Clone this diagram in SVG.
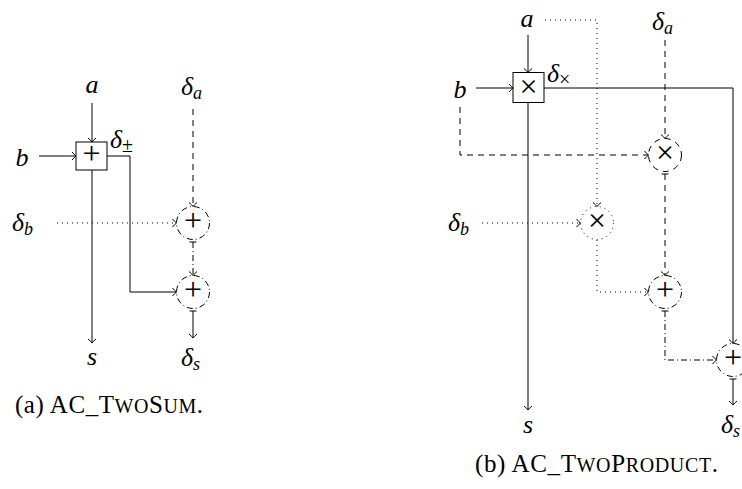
<svg xmlns="http://www.w3.org/2000/svg" width="742" height="489" viewBox="0 0 742 489">
<defs>
<marker id="arr" markerUnits="userSpaceOnUse" viewBox="-8 -6 12 12" markerWidth="12" markerHeight="12" refX="0" refY="0" orient="auto" overflow="visible">
<path d="M-4,-4 Q-1.5,-1 0,0 Q-1.5,1 -4,4" fill="none" stroke="#000" stroke-width="1" stroke-dasharray="none"/>
</marker>
<marker id="bar" markerUnits="userSpaceOnUse" viewBox="-6 -6 12 12" markerWidth="12" markerHeight="12" refX="0" refY="0" orient="auto" overflow="visible">
<path d="M0,-3.5 V3.5" fill="none" stroke="#000" stroke-width="1" stroke-dasharray="none"/>
</marker>
<style>
.ln{fill:none;stroke:#000;stroke-width:1}
.dash{stroke-dasharray:6 5}
.dot{stroke-dasharray:1 4}
.dd{stroke-dasharray:6 3 1 3}
.arr{marker-end:url(#arr)}
.bar{marker-start:url(#bar)}
.box{fill:#fff;stroke:#000;stroke-width:1}
.op{fill:none;stroke:#000;stroke-width:1}
.m{font-family:"Liberation Serif",serif;font-style:italic;font-size:26px;fill:#000}
.sub{font-size:18px}
.subop{font-size:20px;font-style:normal}
.sym{font-family:"Liberation Serif",serif;font-size:32px;fill:#000;text-anchor:middle}
.cap{font-family:"Liberation Serif",serif;font-size:25px;fill:#000}
</style>
</defs>
<g id="connectors">
<path class="ln arr" d="M92,103 V142"/>
<path class="ln arr" d="M39,156 H76"/>
<path class="ln" d="M107,156 H130 V292"/>
<path class="ln arr" d="M130,292 H176.5"/>
<path class="ln arr" d="M92,170 V343"/>
<path class="ln dash arr" d="M193,109 V206.5"/>
<path class="ln dot arr" d="M57,223 H176.5"/>
<path class="ln dd arr bar" d="M193,242 V275.5"/>
<path class="ln arr bar" d="M193,311 V338"/>
<path class="ln arr" d="M528,35 V72.5"/>
<path class="ln arr" d="M476,88 H513"/>
<path class="ln arr" d="M544,88 H733 V343.5"/>
<path class="ln dot arr" d="M545,20 H597 V206.5"/>
<path class="ln dash arr" d="M665,40 V138.5"/>
<path class="ln dash arr" d="M460,107 V155 H648.5"/>
<path class="ln arr" d="M528,102.5 V410"/>
<path class="ln dot arr" d="M482,223 H580.5"/>
<path class="ln dot arr" d="M597,240 V292 H648.5"/>
<path class="ln dash arr bar" d="M665,174 V275.5"/>
<path class="ln dd arr bar" d="M665,311 V360 H716.5"/>
<path class="ln arr bar" d="M733,379 V405"/>
</g>
<g id="node-a-left"><text class="m" x="92" y="93" text-anchor="middle">a</text></g>
<g id="node-b-left"><text class="m" x="22" y="166" text-anchor="middle">b</text></g>
<g id="node-sum-left"><rect class="box" x="76" y="142" width="31" height="28"/><text class="sym" x="91.5" y="164">+</text></g>
<g id="label-dpm"><text class="m" x="110" y="148">δ<tspan class="subop" dy="4">±</tspan></text></g>
<g id="node-s-left"><text class="m" x="92" y="365" text-anchor="middle">s</text></g>
<g id="node-da-left"><text class="m" x="181" y="95">δ<tspan class="sub" dy="4">a</tspan></text></g>
<g id="node-db-left"><text class="m" x="12" y="231">δ<tspan class="sub" dy="4">b</tspan></text></g>
<g id="node-c1-left"><circle class="op dd" cx="193" cy="223" r="16.5"/><text class="sym" x="193" y="231">+</text></g>
<g id="node-c2-left"><circle class="op dd" cx="193" cy="292" r="16.5"/><text class="sym" x="193" y="300">+</text></g>
<g id="node-ds-left"><text class="m" x="181" y="366">δ<tspan class="sub" dy="4">s</tspan></text></g>
<g id="caption-a"><text class="cap" x="15" y="413" textLength="188" lengthAdjust="spacing">(a) AC_T<tspan font-size="20">WO</tspan>S<tspan font-size="20">UM</tspan>.</text></g>
<g id="node-a-right"><text class="m" x="527" y="27" text-anchor="middle">a</text></g>
<g id="node-b-right"><text class="m" x="460" y="98" text-anchor="middle">b</text></g>
<g id="node-mul-right"><rect class="box" x="513" y="72.5" width="31" height="30"/><text class="sym" x="528.5" y="97">×</text></g>
<g id="label-dx"><text class="m" x="547" y="82">δ<tspan class="subop" dy="4">×</tspan></text></g>
<g id="node-da-right"><text class="m" x="652" y="30">δ<tspan class="sub" dy="4">a</tspan></text></g>
<g id="node-db-right"><text class="m" x="448" y="231">δ<tspan class="sub" dy="4">b</tspan></text></g>
<g id="node-c1-right"><circle class="op dash" cx="665" cy="155" r="16.5"/><text class="sym" x="665" y="163">×</text></g>
<g id="node-c2-right"><circle class="op dot" cx="597" cy="223" r="16.5"/><text class="sym" x="597" y="231">×</text></g>
<g id="node-c3-right"><circle class="op dd" cx="665" cy="292" r="16.5"/><text class="sym" x="665" y="300">+</text></g>
<g id="node-c4-right"><circle class="op dd" cx="733" cy="360" r="16.5"/><text class="sym" x="733" y="368">+</text></g>
<g id="node-s-right"><text class="m" x="528" y="433" text-anchor="middle">s</text></g>
<g id="node-ds-right"><text class="m" x="721" y="433">δ<tspan class="sub" dy="4">s</tspan></text></g>
<g id="caption-b"><text class="cap" x="475" y="472" textLength="243" lengthAdjust="spacing">(b) AC_T<tspan font-size="20">WO</tspan>P<tspan font-size="20">RODUCT</tspan>.</text></g>
</svg>
